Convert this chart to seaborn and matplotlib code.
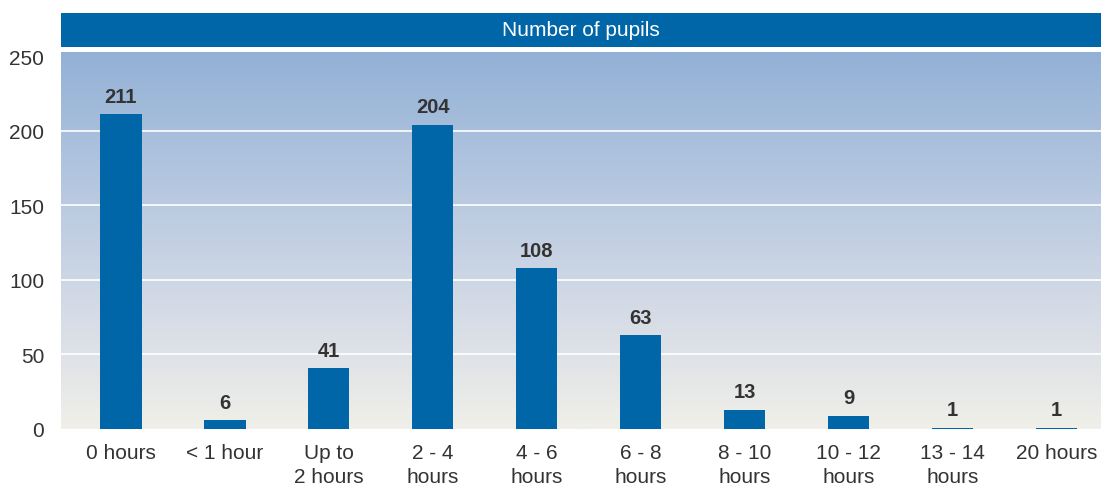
import numpy as np
import pandas as pd
import matplotlib
matplotlib.use("Agg")
import matplotlib.pyplot as plt
from matplotlib.colors import LinearSegmentedColormap
import seaborn as sns

categories = ["0 hours", "< 1 hour", "Up to\n2 hours", "2 - 4\nhours", "4 - 6\nhours",
              "6 - 8\nhours", "8 - 10\nhours", "10 - 12\nhours", "13 - 14\nhours", "20 hours"]
pupils = [211, 6, 41, 204, 108, 63, 13, 9, 1, 1]
y_ticks = [0, 50, 100, 150, 200, 250]
title = "Number of pupils"

sns.set_theme(style="white")
plt.rcParams["font.family"] = ["Liberation Sans", "DejaVu Sans"]

BLUE = "#0066a8"
TEXT = "#333333"

df = pd.DataFrame({"cat": categories, "val": pupils})

fig = plt.figure(figsize=(11.01, 4.85), dpi=100)
ax = fig.add_axes([61/1101, 55/485, 1 - 61/1101, (430 - 53)/485])

ymax = 252.7
x_lo, x_hi = -0.575, 9.43
# gradient background
grad = LinearSegmentedColormap.from_list("bg", ["#f0efe9", "#d3dae6", "#b3c6df", "#93b1d6"])
g = np.linspace(0, 1, 256).reshape(-1, 1)
ax.imshow(g, cmap=grad, origin="lower", aspect="auto",
          extent=[x_lo, x_hi, 0, ymax], zorder=0)

for t in y_ticks[1:-1]:
    ax.axhline(t, color="white", lw=1.2, zorder=1)

sns.barplot(data=df, x="cat", y="val", color=BLUE, width=0.4, saturation=1,
            linewidth=0, edgecolor=BLUE, ax=ax, zorder=2)

for i, v in enumerate(pupils):
    ax.text(i, v + 5.5, str(v), ha="center", va="bottom", fontsize=14.5,
            fontweight="bold", color=TEXT, zorder=3)

ax.set_xlim(x_lo, x_hi)
ax.set_ylim(0, ymax)
ax.set_yticks(y_ticks)
ax.set_xlabel("")
ax.set_ylabel("")
for s in ax.spines.values():
    s.set_visible(False)
ax.tick_params(axis="y", length=0, pad=12, labelsize=15, labelcolor=TEXT)
ax.tick_params(axis="x", length=0, pad=10, labelsize=15, labelcolor=TEXT)
for lbl in ax.get_xticklabels():
    lbl.set_linespacing(1.35)
    lbl.set_va("top")

# title band
tax = fig.add_axes([61/1101, (485 - 48)/485, 1 - 61/1101, 34/485])
tax.set_facecolor(BLUE)
for s in tax.spines.values():
    s.set_visible(False)
tax.set_xticks([])
tax.set_yticks([])
tax.text(0.5, 0.5, title, ha="center", va="center", color="white",
         fontsize=15, fontweight="normal", transform=tax.transAxes)

fig.savefig("out.png", dpi=100)
